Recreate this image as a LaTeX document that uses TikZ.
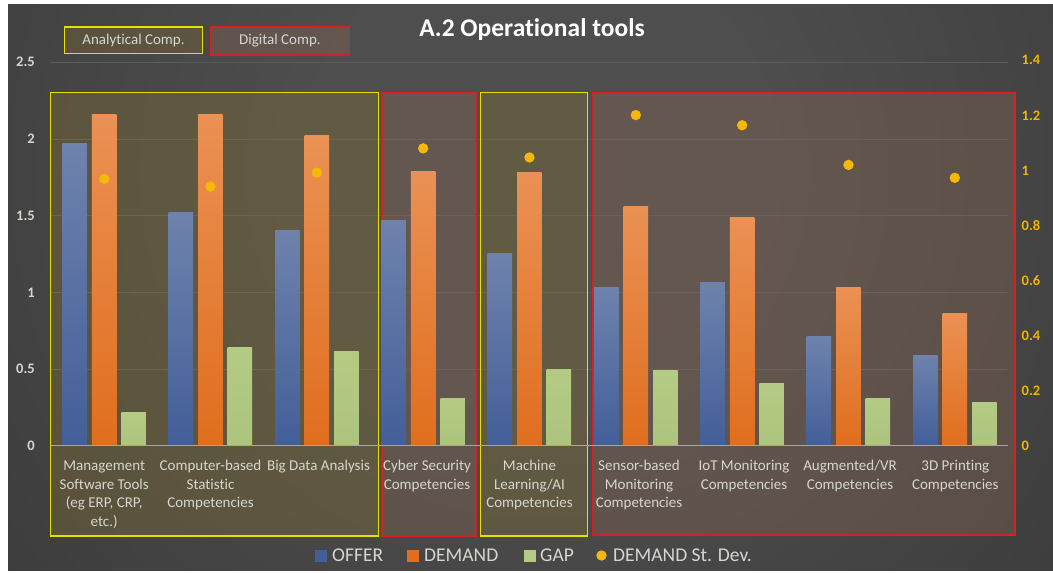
\documentclass[tikz,border=0pt]{standalone}
\usepackage{fontspec}
\setmainfont{Carlito}[Ligatures=NoCommon]
\usetikzlibrary{positioning}
\definecolor{bglight}{HTML}{4E4E4E}
\definecolor{bgdark}{HTML}{232323}
\definecolor{gridgray}{HTML}{5C5C5C}
\definecolor{axisgray}{HTML}{A6A6A6}
\definecolor{labelgray}{HTML}{D6D6D0}
\definecolor{tickgold}{HTML}{F2B400}
\definecolor{offertop}{HTML}{6E82AC}
\definecolor{offerbot}{HTML}{435F99}
\definecolor{demandtop}{HTML}{EA9154}
\definecolor{demandbot}{HTML}{E06E1E}
\definecolor{gaptop}{HTML}{B4CB84}
\definecolor{gapbot}{HTML}{ADC47E}
\definecolor{sdgold}{HTML}{F5B70A}
\definecolor{anayellow}{HTML}{E6E000}
\definecolor{anafill}{RGB}{138,116,48}
\definecolor{digred}{HTML}{D42222}
\definecolor{digfill}{RGB}{140,104,82}
\pgfdeclareradialshading{chartbg}{\pgfpoint{0bp}{0bp}}{color(0bp)=(bglight); color(8bp)=(bglight); color(47bp)=(bgdark); color(50bp)=(bgdark)}
\begin{document}
\begin{tikzpicture}[x=1pt,y=-1pt,
    gridline/.style={draw=gridgray,line width=0.8pt},
    lefttick/.style={text=labelgray,font=\fontsize{14.5}{16}\bfseries,anchor=east,inner sep=0pt},
    righttick/.style={text=tickgold,font=\fontsize{14.5}{16}\bfseries,anchor=west,inner sep=0pt},
    anabox/.style={draw=anayellow,line width=1.3pt,fill=anafill,fill opacity=0.35},
    digbox/.style={draw=digred,line width=1.3pt,fill=digfill,fill opacity=0.35},
    offerbar/.style={top color=offertop,bottom color=offerbot},
    demandbar/.style={top color=demandtop,bottom color=demandbot},
    gapbar/.style={top color=gaptop,bottom color=gapbot},
    sddot/.style={fill=sdgold},
    catlabel/.style={text=labelgray,font=\fontsize{15}{18.6}\selectfont,align=center,inner sep=0pt,anchor=base},
    legtext/.style={text=labelgray,font=\fontsize{19.5}{22}\selectfont,anchor=base west,inner sep=0pt}]

  \useasboundingbox (0,0) rectangle (1053,573);
  \fill[white] (0,0) rectangle (1053,573);
  \begin{scope}
    \clip (8,4) rectangle (1053,570);
    \fill[bgdark] (8,4) rectangle (1053,570);
    \shade[shading=chartbg] (540,170) circle (720);
  \end{scope}

  \foreach \v [count=\k] in {0.5,1,1.5,2,2.5}
    \draw[gridline] (51,{445.7-\v*153.4}) -- (1008,{445.7-\v*153.4});
  \foreach \v [count=\k] in {0,0.5,1,1.5,2,2.5}
    \node[lefttick] (yl\k) at (35,{445.7-\v*153.4}) {\v};
  \foreach \v [count=\k] in {0,0.2,0.4,0.6,0.8,1,1.2,1.4}
    \node[righttick] (yr\k) at (1021.5,{445.7-\v*275.3}) {\v};

  \draw[anabox] (50.7,92.3) rectangle (378.7,536);
  \draw[digbox] (382,92.3) rectangle (476,536);
  \draw[anabox] (480.3,92.3) rectangle (587.3,536);
  \draw[digbox] (592.7,92.3) rectangle (1015,535);

  \foreach \i/\o/\d/\g/\s in {1/1.967/2.162/0.215/0.969, 2/1.517/2.160/0.641/0.941,
      3/1.400/2.025/0.615/0.992, 4/1.465/1.790/0.309/1.080, 5/1.250/1.780/0.498/1.047,
      6/1.033/1.562/0.490/1.201, 7/1.066/1.490/0.407/1.164, 8/0.709/1.033/0.309/1.020,
      9/0.591/0.865/0.283/0.973}{
    \pgfmathsetmacro\cx{51+106.33*(\i-0.5)}
    \shade[offerbar] (\cx-41.75,445.7) rectangle (\cx-17.25,{445.7-\o*153.4});
    \shade[demandbar] (\cx-12.25,445.7) rectangle (\cx+12.25,{445.7-\d*153.4});
    \shade[gapbar] (\cx+17.25,445.7) rectangle (\cx+41.75,{445.7-\g*153.4});
    \fill[sddot] (\cx,{445.7-\s*275.3}) circle (5.2);
  }
  \draw[axisgray,line width=1pt] (51,445.7) -- (1008,445.7);

  \node[catlabel] (mgmt) at (104.2,526.5) {Management\\Software Tools\\(eg ERP, CRP,\\etc.)};
  \node[catlabel] (stat) at (210.5,507.9) {Computer-based\\Statistic\\Competencies};
  \node[catlabel] (bigdata) at (318.5,470.7) {Big Data Analysis};
  \node[catlabel] (cyber) at (427,489.3) {Cyber Security\\Competencies};
  \node[catlabel] (ml) at (529.5,507.9) {Machine\\Learning/AI\\Competencies};
  \node[catlabel] (sensor) at (639,507.9) {Sensor-based\\Monitoring\\Competencies};
  \node[catlabel] (iot) at (744,489.3) {IoT Monitoring\\Competencies};
  \node[catlabel] (ar) at (850,489.3) {Augmented/VR\\Competencies};
  \node[catlabel] (print) at (955.3,489.3) {3D Printing\\Competencies};

  \node[text=white,font=\fontsize{25.5}{28}\bfseries] (title) at (532,30) {A.2 Operational tools};
  \node[draw=anayellow,line width=1.3pt,fill=anafill,fill opacity=0.3,text opacity=1,text=labelgray,
    font=\fontsize{15}{18}\selectfont,minimum width=137.6,minimum height=26.3] (anakey) at (133.5,40) {Analytical Comp.};
  \node[draw=digred,line width=1.3pt,fill=digfill,fill opacity=0.35,text opacity=1,text=labelgray,
    font=\fontsize{15}{18}\selectfont,minimum width=138.6,minimum height=28] (digkey) at (280,41) {Digital Comp.};

  \fill[offerbot] (315,550) rectangle (326.7,561.7);
  \node[legtext] (offer) at (332,561) {OFFER};
  \fill[demandbot] (407,550) rectangle (418.7,561.7);
  \node[legtext] (demand) at (424,561) {DEMAND};
  \fill[gaptop] (524,550) rectangle (535.7,561.7);
  \node[legtext] (gap) at (540,561) {GAP};
  \fill[sddot] (601.5,555.5) circle (5.2);
  \node[legtext] (sdev) at (613,561) {DEMAND St. Dev.};
\end{tikzpicture}
\end{document}
